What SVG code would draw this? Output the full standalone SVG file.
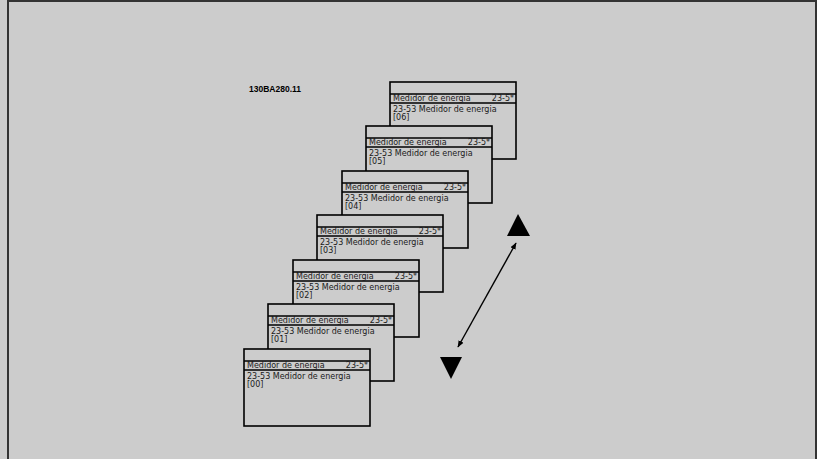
<svg xmlns="http://www.w3.org/2000/svg" width="817" height="459" viewBox="0 0 817 459">
<defs>
<style>
.bg{fill:#cccccc}
.frame{fill:none;stroke:#333333;stroke-width:2}
.box{fill:#cccccc;stroke:#000;stroke-width:1.6}
.sep{stroke:#000;stroke-width:1.6}
.t{font-family:"DejaVu Sans",sans-serif;font-size:8px;fill:#1a1a1a}
.lbl{font-family:"Liberation Sans",Arial,sans-serif;font-size:8.5px;font-weight:bold;fill:#000}
.arr{stroke:#000;stroke-width:1.4;fill:none}
</style>
<marker id="ah" viewBox="0 0 10 10" refX="9" refY="5" markerWidth="7" markerHeight="7" orient="auto-start-reverse" markerUnits="userSpaceOnUse">
<path d="M0,1 L10,5 L0,9 z" fill="#000"/>
</marker>
</defs>
<rect class="bg" x="0" y="0" width="817" height="459"/>
<rect class="frame" x="8" y="1" width="808" height="470"/>
<text class="lbl" x="249" y="92">130BA280.11</text>
<g id="box06" transform="translate(390,82)">
<rect class="box" x="0" y="0" width="126" height="77"/>
<line class="sep" x1="0" y1="12" x2="126" y2="12"/><line class="sep" x1="0" y1="21" x2="126" y2="21"/>
<text class="t" x="3" y="18.8">Medidor de energia</text><text class="t" x="124" y="18.8" text-anchor="end">23-5*</text>
<text class="t" x="3" y="29.5">23-53 Medidor de energia</text><text class="t" x="3" y="37.5">[06]</text>
</g>
<g id="box05" transform="translate(366,126)">
<rect class="box" x="0" y="0" width="126" height="77"/>
<line class="sep" x1="0" y1="12" x2="126" y2="12"/><line class="sep" x1="0" y1="21" x2="126" y2="21"/>
<text class="t" x="3" y="18.8">Medidor de energia</text><text class="t" x="124" y="18.8" text-anchor="end">23-5*</text>
<text class="t" x="3" y="29.5">23-53 Medidor de energia</text><text class="t" x="3" y="37.5">[05]</text>
</g>
<g id="box04" transform="translate(342,171)">
<rect class="box" x="0" y="0" width="126" height="77"/>
<line class="sep" x1="0" y1="12" x2="126" y2="12"/><line class="sep" x1="0" y1="21" x2="126" y2="21"/>
<text class="t" x="3" y="18.8">Medidor de energia</text><text class="t" x="124" y="18.8" text-anchor="end">23-5*</text>
<text class="t" x="3" y="29.5">23-53 Medidor de energia</text><text class="t" x="3" y="37.5">[04]</text>
</g>
<g id="box03" transform="translate(317,215)">
<rect class="box" x="0" y="0" width="126" height="77"/>
<line class="sep" x1="0" y1="12" x2="126" y2="12"/><line class="sep" x1="0" y1="21" x2="126" y2="21"/>
<text class="t" x="3" y="18.8">Medidor de energia</text><text class="t" x="124" y="18.8" text-anchor="end">23-5*</text>
<text class="t" x="3" y="29.5">23-53 Medidor de energia</text><text class="t" x="3" y="37.5">[03]</text>
</g>
<g id="box02" transform="translate(293,260)">
<rect class="box" x="0" y="0" width="126" height="77"/>
<line class="sep" x1="0" y1="12" x2="126" y2="12"/><line class="sep" x1="0" y1="21" x2="126" y2="21"/>
<text class="t" x="3" y="18.8">Medidor de energia</text><text class="t" x="124" y="18.8" text-anchor="end">23-5*</text>
<text class="t" x="3" y="29.5">23-53 Medidor de energia</text><text class="t" x="3" y="37.5">[02]</text>
</g>
<g id="box01" transform="translate(268,304)">
<rect class="box" x="0" y="0" width="126" height="77"/>
<line class="sep" x1="0" y1="12" x2="126" y2="12"/><line class="sep" x1="0" y1="21" x2="126" y2="21"/>
<text class="t" x="3" y="18.8">Medidor de energia</text><text class="t" x="124" y="18.8" text-anchor="end">23-5*</text>
<text class="t" x="3" y="29.5">23-53 Medidor de energia</text><text class="t" x="3" y="37.5">[01]</text>
</g>
<g id="box00" transform="translate(244,349)">
<rect class="box" x="0" y="0" width="126" height="77"/>
<line class="sep" x1="0" y1="12" x2="126" y2="12"/><line class="sep" x1="0" y1="21" x2="126" y2="21"/>
<text class="t" x="3" y="18.8">Medidor de energia</text><text class="t" x="124" y="18.8" text-anchor="end">23-5*</text>
<text class="t" x="3" y="29.5">23-53 Medidor de energia</text><text class="t" x="3" y="37.5">[00]</text>
</g>
<g id="up-key"><polygon points="518,214 530,236 507,236" fill="#000"/></g>
<g id="down-key"><polygon points="440,357 462,357 451,379" fill="#000"/></g>
<g id="connectors">
<line class="arr" x1="516" y1="243" x2="458" y2="347" marker-start="url(#ah)" marker-end="url(#ah)"/>
</g>
</svg>
